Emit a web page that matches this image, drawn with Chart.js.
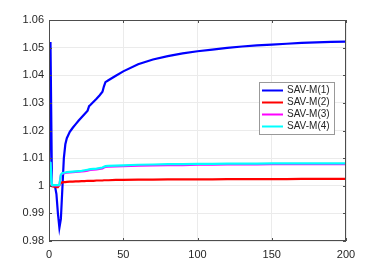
<!DOCTYPE html>
<html>
<head>
<meta charset="utf-8">
<script src="https://cdn.jsdelivr.net/npm/chart.js@4.4.0/dist/chart.umd.min.js"></script>
<style>
    html, body { margin: 0; padding: 0; background: #fff; }
    #wrap { width: 382px; height: 273px; }
</style>
</head>
<body>
<div id="wrap"><canvas id="savChart"></canvas></div>
<script>
// time steps
const tVals = [0, 1, 2, 3, 4, 5, 6, 7, 8, 9, 10, 11, 12,
    14, 16, 18, 20, 22, 24, 26, 27, 28, 30, 32, 34, 36, 37, 38, 40, 45, 50,
    60, 70, 80, 90, 100, 110, 120, 130, 140, 150, 160, 170, 180, 190, 200];

const sav1 = [1.000, 1.052, 1.000, 1.000, 1.000, 0.997, 0.990, 0.9848, 0.988, 0.999, 1.010, 1.0150, 1.0172,
    1.0195, 1.0210, 1.0223, 1.0236, 1.0248, 1.0260, 1.0272, 1.0288, 1.0293, 1.0304, 1.0315, 1.0327, 1.0340,
    1.0360, 1.0375, 1.0382, 1.0398, 1.0414,
    1.0440, 1.0457, 1.0469, 1.0479, 1.0487, 1.0493, 1.0499, 1.0504, 1.0508, 1.0511, 1.0514, 1.0517, 1.0519, 1.0521, 1.0522];

const sav2 = [1.000, 1.000, 0.9998, 0.9997, 0.9997, 0.9995, 0.9995, 1.0003, 1.0010, 1.0012, 1.0013, 1.0013, 1.0014,
    1.0015, 1.0015, 1.0016, 1.0016, 1.0017, 1.0017, 1.0018, 1.0018, 1.0018, 1.0018, 1.0019, 1.0019, 1.0019,
    1.0020, 1.0020, 1.0020, 1.0021, 1.0021,
    1.0022, 1.0022, 1.0023, 1.0023, 1.0023, 1.0023, 1.0024, 1.0024, 1.0024, 1.0024, 1.0024, 1.0025, 1.0025, 1.0025, 1.0025];

const sav3 = [1.000, 1.0085, 1.0001, 1.0001, 1.0001, 1.0001, 1.0001, 1.0002, 1.0038, 1.0044, 1.0045, 1.0046, 1.0047,
    1.0048, 1.0049, 1.0050, 1.0051, 1.0052, 1.0053, 1.0055, 1.0056, 1.0057, 1.0058, 1.0059, 1.0061, 1.0063,
    1.0066, 1.0068, 1.0069, 1.0070, 1.0071,
    1.0073, 1.0074, 1.0075, 1.0075, 1.0076, 1.0076, 1.0077, 1.0077, 1.0077, 1.0078, 1.0078, 1.0078, 1.0078, 1.0078, 1.0078];

const sav4 = [1.000, 1.0087, 1.0002, 1.0002, 1.0002, 1.0002, 1.0002, 1.0003, 1.0040, 1.0046, 1.0047, 1.0048, 1.0049,
    1.0050, 1.0051, 1.0052, 1.0053, 1.0054, 1.0056, 1.0058, 1.0059, 1.0060, 1.0061, 1.0062, 1.0064, 1.0066,
    1.0069, 1.0071, 1.0072, 1.0073, 1.0074,
    1.0076, 1.0077, 1.0078, 1.0078, 1.0079, 1.0079, 1.0080, 1.0080, 1.0080, 1.0081, 1.0081, 1.0081, 1.0081, 1.0081, 1.0081];

const seriesNames = ['SAV-M(1)', 'SAV-M(2)', 'SAV-M(3)', 'SAV-M(4)'];
const seriesColors = ['#0000ff', '#ff0000', '#ff00ff', '#00ffff'];
const xTicks = [0, 50, 100, 150, 200];
const yTicks = [0.98, 0.99, 1, 1.01, 1.02, 1.03, 1.04, 1.05, 1.06];

const toPoints = (vals) => tVals.map((t, i) => ({ x: t, y: vals[i] }));

// axis box with inward ticks + legend inside the plot (matlab style)
const boxPlugin = {
    id: 'boxPlugin',
    afterDatasetsDraw(chart) {
        const { ctx, chartArea: a, scales } = chart;
        ctx.save();
        ctx.strokeStyle = '#4d4d4d';
        ctx.lineWidth = 1;
        ctx.strokeRect(a.left + 0.5, a.top + 0.5, a.right - a.left - 1, a.bottom - a.top - 1);

        ctx.beginPath();
        xTicks.forEach(v => {
            const px = Math.round(scales.x.getPixelForValue(v)) + 0.5;
            ctx.moveTo(px, a.bottom); ctx.lineTo(px, a.bottom - 3);
            ctx.moveTo(px, a.top); ctx.lineTo(px, a.top + 3);
        });
        yTicks.forEach(v => {
            const py = Math.round(scales.y.getPixelForValue(v)) + 0.5;
            ctx.moveTo(a.left, py); ctx.lineTo(a.left + 3, py);
            ctx.moveTo(a.right, py); ctx.lineTo(a.right - 3, py);
        });
        ctx.stroke();

        // legend
        const w = 75, h = 52;
        const lx = a.right - 12 - w;
        const ly = a.top + 62;
        ctx.fillStyle = '#fff';
        ctx.fillRect(lx, ly, w, h);
        ctx.strokeStyle = '#999';
        ctx.strokeRect(lx + 0.5, ly + 0.5, w, h);
        ctx.font = '10px "Liberation Sans", Arial, sans-serif';
        ctx.textBaseline = 'middle';
        chart.data.datasets.forEach((ds, i) => {
            const yy = ly + 8.5 + i * 12;
            ctx.strokeStyle = ds.borderColor;
            ctx.lineWidth = 2;
            ctx.beginPath();
            ctx.moveTo(lx + 3, yy);
            ctx.lineTo(lx + 24, yy);
            ctx.stroke();
            ctx.fillStyle = '#262626';
            ctx.fillText(ds.label, lx + 28, yy);
        });
        ctx.restore();
    }
};

const datasets = [sav1, sav2, sav3, sav4].map((vals, i) => ({
    label: seriesNames[i],
    data: toPoints(vals),
    borderColor: seriesColors[i],
    backgroundColor: seriesColors[i],
    borderWidth: 2.2,
    pointRadius: 0,
    tension: 0,
    fill: false,
    order: 4 - i
}));

new Chart(document.getElementById('savChart'), {
    type: 'line',
    data: { datasets: datasets },
    options: {
        responsive: true,
        maintainAspectRatio: false,
        animation: false,
        layout: { padding: { left: 0, right: 36, top: 20, bottom: 0 } },
        plugins: {
            legend: { display: false },
            tooltip: { enabled: false }
        },
        scales: {
            x: {
                type: 'linear',
                min: 0,
                max: 200,
                afterBuildTicks: (s) => { s.ticks = xTicks.map(v => ({ value: v })); },
                afterFit: (s) => { s.height = 32; },
                grid: { color: '#ebebeb', drawTicks: false },
                border: { display: false },
                ticks: {
                    padding: 7,
                    color: '#262626',
                    font: { family: '"Liberation Sans", Arial, sans-serif', size: 11 },
                    maxRotation: 0
                }
            },
            y: {
                type: 'linear',
                min: 0.98,
                max: 1.06,
                afterBuildTicks: (s) => { s.ticks = yTicks.map(v => ({ value: v })); },
                afterFit: (s) => { s.width = 49; },
                grid: { color: '#ebebeb', drawTicks: false },
                border: { display: false },
                ticks: {
                    padding: 5,
                    color: '#262626',
                    font: { family: '"Liberation Sans", Arial, sans-serif', size: 11 },
                    callback: (v) => String(Number(v.toFixed(2)))
                }
            }
        }
    },
    plugins: [boxPlugin]
});
</script>
</body>
</html>
